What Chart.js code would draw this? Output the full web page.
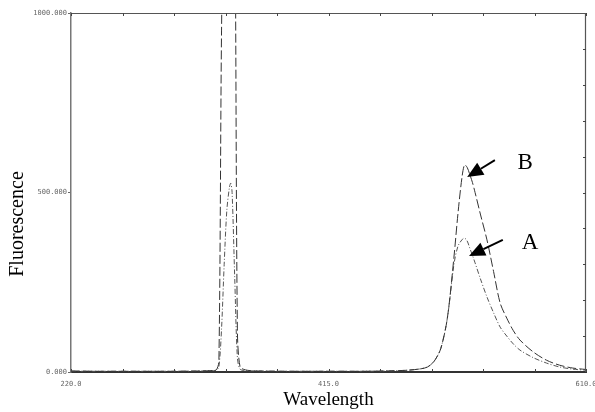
<!DOCTYPE html>
<html><head><meta charset="utf-8">
<script src="https://cdn.jsdelivr.net/npm/chart.js@4.4.1/dist/chart.umd.min.js"></script>
<style>html,body{margin:0;padding:0;background:#fff}#c{display:block}</style>
</head><body>
<canvas id="c" width="595" height="412"></canvas>
<script>
// ---- data ----
const wavelengths = [220,240,260,280,300,320,
  326,330,332,334,336,338,340,341,342,344,346,348,
  352,360,380,400,420,440,460,
  475,485,490,495,500,505,510,513,516,518,520,522,524,526,530,535,540,545,550,555,560,570,580,590,600,610];
const seriesB = [3,2,2,2,2,3,
  4,6,30,950,1400,1500,1500,1500,1500,1350,120,15,
  6,3,2,2,2,2,3,
  5,9,14,30,65,150,320,440,540,577,570,550,528,500,440,368,280,192,150,115,89,56,33,19,11,7];
const seriesA = [2,2,2,2,2,3,
  4,5,15,120,300,450,515,526,500,260,40,8,
  4,3,2,2,2,2,3,
  5,9,14,30,65,150,300,350,368,373,365,345,325,304,260,209,165,125,100,78,61,40,25,14,8,5];
const xTickLabels = {220:'220.0', 415:'415.0', 610:'610.0'};
const yTickLabels = {0:'0.000', 500:'500.000', 1000:'1000.000'};
const annotations = [
  {label:'B', tip:[520,543], tail:[541,590], text:[564,582]},
  {label:'A', tip:[521.4,323], tail:[547,368], text:[567.6,360]}
];

const toPts = (ys) => ys.map((y,i)=>({x:wavelengths[i], y:y}));

const framePlugin = {
  id:'frame',
  afterDatasetsDraw(chart){
    const {ctx, chartArea:a, scales:{x,y}} = chart;
    ctx.save();
    ctx.strokeStyle = '#555'; ctx.lineWidth = 1.2;
    ctx.beginPath();
    ctx.moveTo(a.left, a.top+0.5); ctx.lineTo(a.right, a.top+0.5);
    ctx.moveTo(a.right-0.5, a.top); ctx.lineTo(a.right-0.5, a.bottom);
    ctx.stroke();
    ctx.strokeStyle = '#444'; ctx.lineWidth = 1;
    ctx.beginPath();
    for (let v = 220; v <= 610; v += 39) {
      const px = Math.round(x.getPixelForValue(v)) + 0.5;
      ctx.moveTo(px, a.top); ctx.lineTo(px, a.top+3);
      ctx.moveTo(px, a.bottom); ctx.lineTo(px, a.bottom-3);
    }
    for (let v = 100; v < 1000; v += 100) {
      const py = Math.round(y.getPixelForValue(v)) + 0.5;
      ctx.moveTo(a.right, py); ctx.lineTo(a.right-3, py);
    }
    ctx.stroke();
    ctx.fillStyle = '#000'; ctx.strokeStyle = '#000';
    annotations.forEach(an => {
      const tx = x.getPixelForValue(an.tip[0]), ty = y.getPixelForValue(an.tip[1]);
      const sx = x.getPixelForValue(an.tail[0]), sy = y.getPixelForValue(an.tail[1]);
      const ang = Math.atan2(ty-sy, tx-sx);
      const hl = 16, hw = 7;
      const bx = tx - hl*Math.cos(ang), by = ty - hl*Math.sin(ang);
      ctx.lineWidth = 2;
      ctx.beginPath(); ctx.moveTo(sx, sy); ctx.lineTo(bx, by); ctx.stroke();
      ctx.beginPath();
      ctx.moveTo(tx, ty);
      ctx.lineTo(bx + hw*Math.sin(ang), by - hw*Math.cos(ang));
      ctx.lineTo(bx - hw*Math.sin(ang), by + hw*Math.cos(ang));
      ctx.closePath(); ctx.fill();
      ctx.font = '23px "Liberation Serif", "Times New Roman", serif';
      ctx.textAlign = 'center'; ctx.textBaseline = 'middle';
      ctx.fillText(an.label, x.getPixelForValue(an.text[0]), y.getPixelForValue(an.text[1]));
    });
    ctx.save();
    ctx.translate(18, 224);
    ctx.rotate(-Math.PI/2);
    ctx.font = '20px "Liberation Serif", "Times New Roman", serif';
    ctx.textAlign = 'center'; ctx.textBaseline = 'middle';
    ctx.fillText('Fluorescence', 0, 0);
    ctx.restore();
    ctx.restore();
  }
};

new Chart(document.getElementById('c'), {
  type: 'line',
  data: {
    datasets: [
      {label:'B', data: toPts(seriesB), borderColor:'#333', borderWidth:1, borderDash:[9,3],
       pointRadius:0, tension:0.3, fill:false},
      {label:'A', data: toPts(seriesA), borderColor:'#555', borderWidth:1, borderDash:[5,2,1,2],
       pointRadius:0, tension:0.3, fill:false}
    ]
  },
  options: {
    responsive:false, animation:false,
    layout:{padding:{left:0, top:13, right:9, bottom:0}},
    plugins:{legend:{display:false}, tooltip:{enabled:false}},
    scales:{
      x:{
        type:'linear', min:220, max:610,
        afterFit(s){ s.height = 40; s.paddingRight = 0; s.paddingLeft = 0; },
        grid:{display:false},
        border:{display:true, color:'#333', width:2},
        ticks:{stepSize:39, autoSkip:false, maxRotation:0, padding:0,
          font:{family:'"DejaVu Sans Mono", monospace', size:7}, color:'#666',
          callback:(v)=> xTickLabels[Math.round(v)] || ''},
        title:{display:true, text:'Wavelength', color:'#000', padding:{top:0,bottom:1},
          font:{family:'"Liberation Serif", "Times New Roman", serif', size:19}}
      },
      y:{
        min:0, max:1000,
        afterFit(s){ s.width = 71; s.paddingTop = 0; s.paddingBottom = 0; },
        grid:{drawOnChartArea:false, tickLength:3, color:'#666'},
        border:{display:true, color:'#777', width:1.5},
        ticks:{stepSize:500, padding:1,
          font:{family:'"DejaVu Sans Mono", monospace', size:7}, color:'#666',
          callback:(v)=> yTickLabels[Math.round(v)] || ''}
      }
    }
  },
  plugins:[framePlugin]
});
</script>
</body></html>
